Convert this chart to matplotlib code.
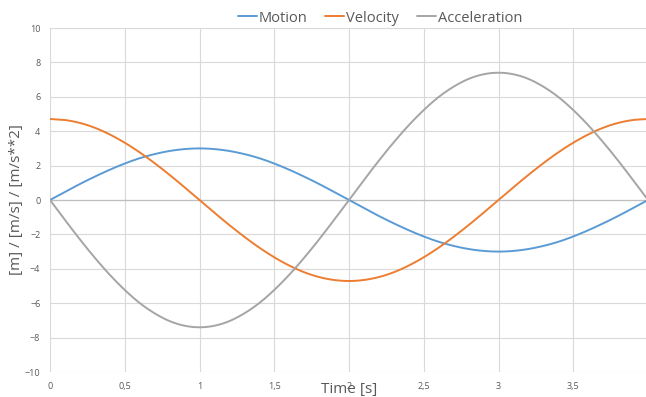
import numpy as np
import matplotlib
matplotlib.use("Agg")
import matplotlib.pyplot as plt

# Time samples [s]
time = [round(0.1 * i, 1) for i in range(41)]

motion = [0.00, 0.47, 0.93, 1.36, 1.76, 2.12, 2.43, 2.67, 2.85, 2.96, 3.00,
          2.96, 2.85, 2.67, 2.43, 2.12, 1.76, 1.36, 0.93, 0.47, 0.00,
          -0.47, -0.93, -1.36, -1.76, -2.12, -2.43, -2.67, -2.85, -2.96, -3.00,
          -2.96, -2.85, -2.67, -2.43, -2.12, -1.76, -1.36, -0.93, -0.47, 0.00]

velocity = [4.71, 4.65, 4.48, 4.20, 3.81, 3.33, 2.77, 2.14, 1.46, 0.74, 0.00,
            -0.74, -1.46, -2.14, -2.77, -3.33, -3.81, -4.20, -4.48, -4.65, -4.71,
            -4.65, -4.48, -4.20, -3.81, -3.33, -2.77, -2.14, -1.46, -0.74, 0.00,
            0.74, 1.46, 2.14, 2.77, 3.33, 3.81, 4.20, 4.48, 4.65, 4.71]

acceleration = [0.00, -1.16, -2.29, -3.36, -4.35, -5.23, -5.99, -6.59, -7.04, -7.31, -7.40,
                -7.31, -7.04, -6.59, -5.99, -5.23, -4.35, -3.36, -2.29, -1.16, 0.00,
                1.16, 2.29, 3.36, 4.35, 5.23, 5.99, 6.59, 7.04, 7.31, 7.40,
                7.31, 7.04, 6.59, 5.99, 5.23, 4.35, 3.36, 2.29, 1.16, 0.00]

x_ticks = [0, 0.5, 1, 1.5, 2, 2.5, 3, 3.5, 4]
x_tick_labels = ["0", "0,5", "1", "1,5", "2", "2,5", "3", "3,5", "4"]
y_ticks = [-10, -8, -6, -4, -2, 0, 2, 4, 6, 8, 10]

text_color = "#595959"
grid_color = "#D9D9D9"


def smooth(xs, ys, n=12):
    """Catmull-Rom curve through the sample points (smoothed line)."""
    x = np.asarray(xs, float)
    y = np.asarray(ys, float)
    px = np.concatenate([[2 * x[0] - x[1]], x, [2 * x[-1] - x[-2]]])
    py = np.concatenate([[2 * y[0] - y[1]], y, [2 * y[-1] - y[-2]]])
    t = np.linspace(0, 1, n, endpoint=False)
    ox, oy = [], []
    for i in range(1, len(px) - 2):
        for arr, out in ((px, ox), (py, oy)):
            p0, p1, p2, p3 = arr[i - 1], arr[i], arr[i + 1], arr[i + 2]
            out.extend(0.5 * (2 * p1 + (-p0 + p2) * t
                              + (2 * p0 - 5 * p1 + 4 * p2 - p3) * t ** 2
                              + (-p0 + 3 * p1 - 3 * p2 + p3) * t ** 3))
    ox.append(x[-1])
    oy.append(y[-1])
    return np.array(ox), np.array(oy)


plt.rcParams["font.family"] = ["Open Sans", "DejaVu Sans"]

fig = plt.figure(figsize=(6.46, 3.97), dpi=100)
ax = fig.add_axes([50 / 646, 1 - 372 / 397, 598 / 646, 344 / 397])

for values, color, name in ((motion, "#5B9BD5", "Motion"),
                            (velocity, "#ED7D31", "Velocity"),
                            (acceleration, "#A5A5A5", "Acceleration")):
    sx, sy = smooth(time, values)
    ax.plot(sx, sy, color=color, lw=1.4, label=name, zorder=3,
            solid_capstyle="round")

ax.set_xlim(0, 4)
ax.set_ylim(-10, 10)
ax.set_xticks(x_ticks)
ax.set_xticklabels(x_tick_labels)
ax.set_yticks(y_ticks)
ax.grid(True, color=grid_color, lw=0.8, zorder=0)
ax.set_axisbelow(True)
for s in ax.spines.values():
    s.set_visible(False)
ax.axhline(0, color="#BFBFBF", lw=0.9, zorder=1)
ax.tick_params(axis="both", length=0, labelsize=6.5, labelcolor=text_color)
ax.tick_params(axis="x", pad=7)
ax.tick_params(axis="y", pad=7)

fig.text(17 / 646, 1 - 200 / 397, "[m] / [m/s] / [m/s**2]", rotation=90,
         ha="center", va="center", fontsize=11, color=text_color)
fig.text(349 / 646, 1 - 389 / 397, "Time [s]", ha="center", va="center",
         fontsize=11, color=text_color)

leg = fig.legend(loc="center", bbox_to_anchor=(380 / 646, 1 - 18 / 397), ncol=3,
                 frameon=False, fontsize=10.5, handlelength=1.3, handletextpad=0.15,
                 columnspacing=1.2, labelcolor=text_color)

fig.savefig("out.png", dpi=100)
